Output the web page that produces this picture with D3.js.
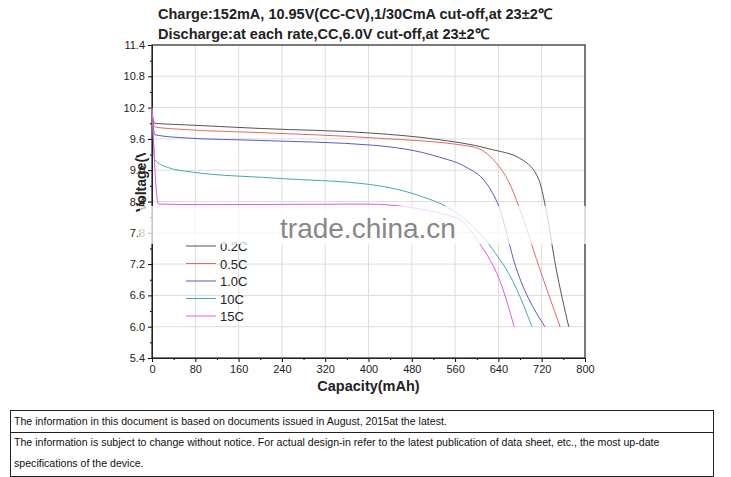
<!DOCTYPE html>
<html><head><meta charset="utf-8">
<script src="https://cdn.jsdelivr.net/npm/d3@7"></script>
<style>body{margin:0;background:#fff;font-family:"Liberation Sans",Arial,sans-serif}</style>
</head><body><svg id="chart" width="731" height="477"></svg>
<script>
// discharge curves, [capacity mAh, volts]
const rates = ['0.2C', '0.5C', '1.0C', '10C', '15C'];
const colors = ['#555555', '#e06a6a', '#5a5ac8', '#4aa8a8', '#e05ae0'];
const c02 = [[0,10.1],[5,9.9],[60,9.87],[200,9.8],[407,9.71],[520,9.6],[623,9.41],[684,9.2],[715,8.81],[727,8.3],[746,7.15],[770,6.0]];
const c05 = [[0,10.1],[5,9.83],[60,9.78],[200,9.72],[407,9.62],[592,9.45],[636,9.14],[660,8.76],[678,8.3],[715,7.15],[754,6.0]];
const c10 = [[0,10.1],[5,9.68],[60,9.62],[200,9.57],[407,9.48],[531,9.25],[580,9.06],[617,8.76],[641,8.3],[672,7.15],[726,6.0]];
const c100 = [[0,10.2],[3,9.5],[5,9.2],[30,9.05],[70,8.97],[223,8.85],[407,8.72],[500,8.49],[544,8.3],[623,7.57],[672,6.76],[702,6.0]];
const c150 = [[0,10.2],[4,9.3],[8,8.6],[12,8.35],[100,8.34],[396,8.35],[560,8.1],[605,7.6],[647,6.76],[669,6.0]];
const curves = [c02, c05, c10, c100, c150];
const yTicks = d3.range(5.4, 11.41, 0.6);
const xTicks = d3.range(0, 801, 80);

const svg = d3.select('#chart');
const L = 152, R = 585, T = 45, B = 358;
const x = d3.scaleLinear().domain([0, 800]).range([L, R]);
const y = d3.scaleLinear().domain([5.4, 11.4]).range([B, T]);

// titles
svg.append('text').attr('x', 158).attr('y', 19).attr('font-size', 14.5).attr('font-weight', 'bold')
  .attr('fill', '#222').text('Charge:152mA, 10.95V(CC-CV),1/30CmA cut-off,at 23±2℃');
svg.append('text').attr('x', 158).attr('y', 39).attr('font-size', 14.5).attr('font-weight', 'bold')
  .attr('fill', '#222').text('Discharge:at each rate,CC,6.0V cut-off,at 23±2℃');

// grid
svg.append('g').selectAll('line').data(xTicks.slice(1, -1)).join('line')
  .attr('x1', d => x(d)).attr('x2', d => x(d)).attr('y1', T).attr('y2', B)
  .attr('stroke', '#ddd');
svg.append('g').selectAll('line').data(yTicks.slice(1, -1)).join('line')
  .attr('y1', d => y(d)).attr('y2', d => y(d)).attr('x1', L).attr('x2', R)
  .attr('stroke', '#ddd');

// axes
svg.append('g').attr('transform', `translate(${L},0)`)
  .call(d3.axisLeft(y).tickValues(yTicks).tickFormat(d3.format('.1f')).tickSize(4).tickPadding(3));
svg.append('g').attr('transform', `translate(${L},0)`)
  .call(d3.axisLeft(y).tickValues(d3.range(5.7, 11.4, 0.6)).tickFormat('').tickSize(2));
svg.append('g').attr('transform', `translate(0,${B})`)
  .call(d3.axisBottom(x).tickValues(xTicks).tickSize(4).tickPadding(3));
svg.append('g').attr('transform', `translate(0,${B})`)
  .call(d3.axisBottom(x).tickValues(d3.range(40, 800, 80)).tickFormat('').tickSize(2));
svg.selectAll('.tick text').attr('font-size', 11).attr('font-family', 'Liberation Sans, Arial').attr('fill', '#222');
svg.selectAll('.domain').attr('stroke', '#222');
svg.append('rect').attr('x', L).attr('y', T).attr('width', R - L).attr('height', B - T)
  .attr('fill', 'none').attr('stroke', '#222').attr('stroke-width', 1.2);

// axis labels (y label partly hidden, as in the original)
svg.append('defs').append('clipPath').attr('id', 'ylab')
  .append('rect').attr('x', 120).attr('y', 153).attr('width', 40).attr('height', 200);
svg.append('g').attr('clip-path', 'url(#ylab)').append('text')
  .attr('transform', `translate(146,${y(8.85)}) rotate(-90)`).attr('text-anchor', 'middle')
  .attr('font-size', 14).attr('font-weight', 'bold').attr('fill', '#222').text('Voltage(V)');
svg.append('text').attr('x', x(400)).attr('y', 391).attr('text-anchor', 'middle')
  .attr('font-size', 14.5).attr('font-weight', 'bold').attr('fill', '#222').text('Capacity(mAh)');

// curves
const line = d3.line().x(d => x(d[0])).y(d => y(d[1])).curve(d3.curveMonotoneX);
svg.append('g').selectAll('path').data(curves).join('path')
  .attr('d', line).attr('fill', 'none').attr('stroke', (d, i) => colors[i]).attr('stroke-width', 1);

// legend
const lg = svg.append('g').attr('transform', 'translate(186,246)');
rates.forEach((r, i) => {
  lg.append('line').attr('x1', 0).attr('x2', 30).attr('y1', i * 17.5).attr('y2', i * 17.5)
    .attr('stroke', colors[i]);
  lg.append('text').attr('x', 34).attr('y', i * 17.5 + 5).attr('font-size', 13).attr('fill', '#222').text(r);
});

// watermark band
svg.append('rect').attr('x', 140).attr('y', 206).attr('width', 460).attr('height', 38)
  .attr('fill', '#fff').attr('opacity', 0.75);
svg.append('text').attr('x', 368).attr('y', 238).attr('text-anchor', 'middle')
  .attr('font-size', 28).attr('fill', '#888').text('trade.china.cn');

// notice box
svg.append('rect').attr('x', 10.5).attr('y', 410.5).attr('width', 703).attr('height', 66)
  .attr('fill', 'none').attr('stroke', '#222');
svg.append('line').attr('x1', 10).attr('x2', 714).attr('y1', 432.5).attr('y2', 432.5).attr('stroke', '#222');
const notes = ['The information in this document is based on documents issued in August, 2015at the latest.',
  'The information is subject to change without notice. For actual design-in refer to the latest publication of data sheet, etc., the most up-date',
  'specifications of the device.'];
[425, 446, 467].forEach((yy, i) => svg.append('text').attr('x', 14).attr('y', yy)
  .attr('font-size', 10.6).attr('fill', '#111').text(notes[i]));
</script></body></html>
